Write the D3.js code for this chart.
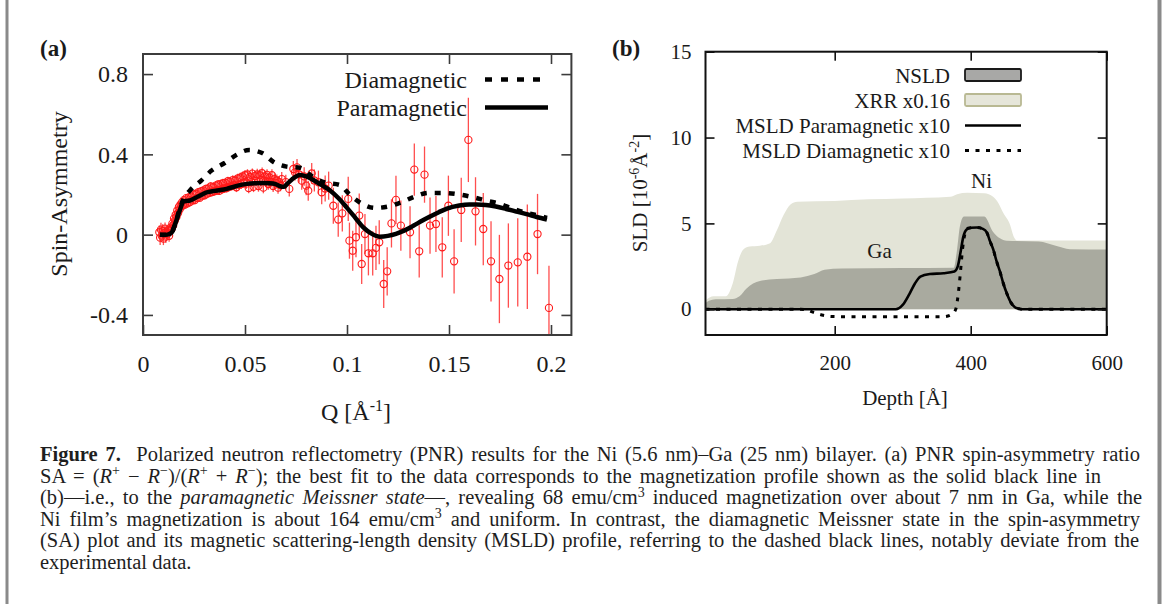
<!DOCTYPE html>
<html>
<head>
<meta charset="utf-8">
<script src="https://cdn.jsdelivr.net/npm/d3@7"></script>
<style>
  body { margin: 0; background: #fff; }
  svg text { font-family: "Liberation Serif", "Times New Roman", serif; }
</style>
</head>
<body>
<svg id="fig" width="1165" height="604"></svg>
<script>
// ---------- Panel (a): spin asymmetry vs Q ----------
const qData = [
  0.0080,0.0084,0.0088,0.0092,0.0096,0.0100,0.0104,0.0108,0.0112,0.0116,
  0.0120,0.0124,0.0128,0.0132,0.0136,0.0140,0.0144,0.0148,0.0152,0.0156,
  0.0160,0.0164,0.0168,0.0172,0.0176,0.0180,0.0184,0.0188,0.0192,0.0196,
  0.0200,0.0206,0.0212,0.0218,0.0224,0.0230,0.0236,0.0242,0.0248,0.0254,
  0.0260,0.0266,0.0272,0.0278,0.0284,0.0290,0.0296,0.0302,0.0308,0.0314,
  0.0320,0.0326,0.0332,0.0338,0.0344,0.0350,0.0356,0.0362,0.0368,0.0374,
  0.0380,0.0386,0.0392,0.0398,0.0404,0.0410,0.0416,0.0422,0.0428,0.0434,
  0.0440,0.0446,0.0452,0.0458,0.0464,0.0470,0.0476,0.0482,0.0488,0.0494,
  0.0500,0.0506,0.0512,0.0518,0.0524,0.0530,0.0536,0.0542,0.0548,0.0554,
  0.0560,0.0566,0.0572,0.0578,0.0584,0.0590,0.0596,0.0602,0.0608,0.0614,
  0.0620,0.0626,0.0632,0.0638,0.0644,0.0650,0.0656,0.0662,0.0668,0.0674,
  0.0680,0.0700,0.0717,0.0737,0.0745,0.0755,0.0765,0.0778,0.0790,0.0800,
  0.0810,0.0827,0.0840,0.0860,0.0876,0.0893,0.0910,0.0933,0.0957,0.0977,
  0.1006,0.1012,0.1028,0.1044,0.1060,0.1072,0.1088,0.1105,0.1126,0.1142,
  0.1158,0.1180,0.1197,0.1218,0.1240,0.1264,0.1309,0.1330,0.1354,0.1380,
  0.1407,0.1436,0.1467,0.1497,0.1525,0.1560,0.1595,0.1630,0.1668,0.1706,
  0.1747,0.1791,0.1837,0.1884,0.1934,0.1990
];
const saData = [
  0.012,-0.015,0.025,-0.005,0.018,-0.020,0.008,0.030,-0.010,0.015,
  0.004,0.022,-0.006,0.020,0.035,0.028,0.055,0.046,0.080,0.070,
  0.098,0.088,0.120,0.108,0.138,0.126,0.150,0.140,0.162,0.146,
  0.172,0.150,0.182,0.156,0.186,0.162,0.190,0.170,0.200,0.172,
  0.204,0.182,0.212,0.184,0.216,0.194,0.220,0.196,0.228,0.204,
  0.230,0.208,0.240,0.212,0.236,0.216,0.244,0.220,0.250,0.218,
  0.252,0.226,0.256,0.230,0.258,0.232,0.266,0.238,0.264,0.242,
  0.272,0.246,0.270,0.236,0.280,0.248,0.284,0.252,0.290,0.258,
  0.296,0.254,0.300,0.232,0.288,0.262,0.304,0.238,0.292,0.268,
  0.300,0.242,0.296,0.272,0.306,0.234,0.290,0.266,0.298,0.252,
  0.284,0.262,0.296,0.242,0.276,0.258,0.270,0.234,0.262,0.246,
  0.277,0.262,0.228,0.327,0.310,0.335,0.300,0.269,0.290,0.244,
  0.219,0.305,0.270,0.261,0.211,0.230,0.244,0.144,0.075,0.106,
  0.178,-0.030,-0.080,-0.013,0.095,-0.146,0.003,-0.093,-0.093,-0.066,
  -0.038,-0.246,-0.183,0.056,0.173,0.045,0.012,0.324,-0.083,0.299,
  0.045,0.053,-0.063,0.144,-0.133,0.123,0.472,0.116,0.028,-0.133,
  -0.221,-0.154,-0.138,-0.110,0.003,-0.365
];
const saErr = [
  0.034,0.036,0.034,0.032,0.034,0.032,0.032,0.030,0.032,0.030,
  0.030,0.029,0.029,0.028,0.028,0.027,0.027,0.026,0.026,0.025,
  0.025,0.024,0.024,0.024,0.023,0.023,0.022,0.022,0.022,0.021,
  0.020,0.020,0.020,0.020,0.020,0.020,0.020,0.020,0.020,0.020,
  0.020,0.020,0.020,0.020,0.020,0.020,0.020,0.020,0.020,0.020,
  0.021,0.021,0.021,0.021,0.021,0.021,0.021,0.021,0.021,0.021,
  0.022,0.022,0.022,0.022,0.022,0.022,0.022,0.022,0.022,0.022,
  0.024,0.024,0.024,0.024,0.024,0.024,0.024,0.024,0.024,0.024,
  0.026,0.026,0.026,0.026,0.026,0.026,0.026,0.026,0.026,0.026,
  0.028,0.028,0.028,0.028,0.028,0.028,0.028,0.028,0.028,0.028,
  0.030,0.030,0.030,0.030,0.030,0.030,0.030,0.030,0.030,0.030,
  0.035,0.036,0.038,0.040,0.040,0.042,0.042,0.045,0.046,0.048,
  0.050,0.052,0.055,0.058,0.060,0.065,0.070,0.090,0.085,0.090,
  0.110,0.090,0.100,0.100,0.110,0.100,0.100,0.110,0.110,0.110,
  0.110,0.120,0.120,0.120,0.120,0.125,0.130,0.130,0.130,0.140,
  0.140,0.140,0.150,0.150,0.160,0.160,0.210,0.170,0.180,0.200,
  0.220,0.210,0.220,0.260,0.200,0.210
];

// fitted curves
const qPara = [0.0083,0.010,0.012,0.014,0.016,0.018,0.0198,0.021,0.023,0.026,0.029,0.031,0.035,0.038,0.041,0.045,0.048,0.051,0.055,0.059,0.062,0.065,0.067,0.069,0.0704,0.073,0.077,0.080,0.0835,0.087,0.0917,0.096,0.0998,0.104,0.108,0.112,0.116,0.120,0.124,0.128,0.1325,0.137,0.1407,0.145,0.149,0.155,0.160,0.1636,0.168,0.173,0.178,0.183,0.188,0.193,0.198];
const saPara = [0.000,-0.002,0.000,0.010,0.060,0.120,0.164,0.168,0.170,0.185,0.200,0.210,0.218,0.222,0.228,0.240,0.248,0.253,0.256,0.257,0.256,0.252,0.242,0.238,0.250,0.275,0.297,0.290,0.272,0.250,0.220,0.180,0.136,0.085,0.036,0.005,-0.010,-0.006,0.004,0.020,0.044,0.070,0.090,0.112,0.130,0.145,0.150,0.150,0.148,0.140,0.128,0.115,0.102,0.088,0.075];
const qDia = [0.0083,0.012,0.014,0.016,0.018,0.020,0.023,0.0288,0.0336,0.040,0.0459,0.052,0.0587,0.064,0.0704,0.077,0.083,0.089,0.0966,0.101,0.107,0.1137,0.120,0.127,0.133,0.140,0.147,0.155,0.162,0.168,0.175,0.1815,0.188,0.196,0.198];
const saDia = [0.000,0.000,0.010,0.060,0.130,0.180,0.220,0.272,0.319,0.357,0.398,0.422,0.405,0.362,0.339,0.333,0.290,0.260,0.247,0.203,0.156,0.133,0.140,0.163,0.189,0.208,0.208,0.200,0.186,0.170,0.153,0.128,0.108,0.090,0.083];

const saTicks = [-0.4, 0, 0.4, 0.8];
const saTickLabels = ["-0.4", "0", "0.4", "0.8"];
const qTicks = [0, 0.05, 0.1, 0.15, 0.2];
const qTickLabels = ["0", "0.05", "0.1", "0.15", "0.2"];
const legendA = ["Diamagnetic", "Paramagnetic"];

// ---------- Panel (b): SLD depth profiles ----------
const depthXRR = [10,16,22,40,50,58,66,75,90,105,115,125,135,145,200,250,300,370,380,395,420,433,441,448,458,463,468,520,600];
const xrrVals  = [0.50,0.68,0.75,0.76,1.5,2.8,3.5,3.65,3.7,3.85,4.6,5.5,6.1,6.26,6.3,6.4,6.45,6.55,6.7,6.78,6.75,6.55,6.16,5.6,4.9,4.25,4.0,4.0,4.0];
const depthNSLD = [10,15,25,50,60,70,80,90,115,150,170,185,210,300,375,380,384,390,420,433,443,453,500,525,546,600];
const nsldVals  = [0.35,0.5,0.58,0.6,0.75,1.2,1.5,1.65,1.76,1.85,2.05,2.3,2.38,2.4,2.42,3.5,4.8,5.4,5.4,4.5,4.13,3.99,3.95,3.7,3.5,3.48];
const depthPara = [10,290,300,310,318,326,340,360,376,381,385,389,394,400,409,418,424,428,433,438,443,448,453,459,465,472,477,600];
const msldPara  = [0,0,0.25,0.9,1.5,1.9,2.05,2.1,2.2,2.5,3.3,4.2,4.65,4.75,4.76,4.68,4.45,4.0,3.5,2.8,2.2,1.5,0.93,0.4,0.12,0.02,0,0];
const depthDia = [10,150,160,170,183,195,210,360,372,378,382,385,388,391,396,409,418,424,428,433,438,443,448,453,459,465,472,477,600];
const msldDia  = [0,0,-0.05,-0.2,-0.35,-0.42,-0.43,-0.43,-0.3,0,1.0,2.2,3.5,4.3,4.72,4.76,4.68,4.45,4.0,3.5,2.8,2.2,1.5,0.93,0.4,0.12,0.02,0,0];

const sldTicks = [0, 5, 10, 15];
const depthTicks = [200, 400, 600];
const legendB = ["NSLD", "XRR x0.16", "MSLD Paramagnetic x10", "MSLD Diamagnetic x10"];

// ---------- Caption ----------
const captionLines = [
  [["Figure 7.", "b"], ["  Polarized neutron reflectometry (PNR) results for the Ni (5.6 nm)\u2013Ga (25 nm) bilayer. (a) PNR spin-asymmetry ratio", ""]],
  [["SA = (", ""], ["R", "i"], ["+", "s"], [" \u2212 ", ""], ["R", "i"], ["\u2212", "s"], [")/(", ""], ["R", "i"], ["+", "s"], [" + ", ""], ["R", "i"], ["\u2212", "s"], ["); the best fit to the data corresponds to the magnetization profile shown as the solid black line in", ""]],
  [["(b)\u2014i.e., to the ", ""], ["paramagnetic Meissner state", "i"], ["\u2014, revealing 68 emu/cm", ""], ["3", "s"], [" induced magnetization over about 7 nm in Ga, while the", ""]],
  [["Ni film\u2019s magnetization is about 164 emu/cm", ""], ["3", "s"], [" and uniform. In contrast, the diamagnetic Meissner state in the spin-asymmetry", ""]],
  [["(SA) plot and its magnetic scattering-length density (MSLD) profile, referring to the dashed black lines, notably deviate from the", ""]],
  [["experimental data.", ""]]
];

// =====================================================================
const svg = d3.select("#fig");
svg.append("rect").attr("width", 1165).attr("height", 604).attr("fill", "#fff");

// side rules of the figure box
svg.append("line").attr("x1", 7).attr("x2", 7).attr("y1", 0).attr("y2", 604)
  .attr("stroke", "#8a8a8a").attr("stroke-width", 3);
svg.append("line").attr("x1", 1159.5).attr("x2", 1159.5).attr("y1", 0).attr("y2", 604)
  .attr("stroke", "#8a8a8a").attr("stroke-width", 4);

const defs = svg.append("defs");

// ---------------- panel (a) ----------------
const A = { l: 143, r: 571.4, t: 54, b: 335 };
const xA = d3.scaleLinear().domain([0, 0.21]).range([A.l, A.r]);
const yA = d3.scaleLinear().domain([-0.5, 0.9]).range([A.b, A.t]);
const frameA = "#3c3c3c";

defs.append("clipPath").attr("id", "clipA").append("rect")
  .attr("x", A.l).attr("y", A.t).attr("width", A.r - A.l).attr("height", A.b - A.t);

const gA = svg.append("g").attr("clip-path", "url(#clipA)");
const pts = qData.map((q, i) => ({ q, s: saData[i], e: saErr[i] }));

gA.selectAll("line.err").data(pts).join("line").attr("class", "err")
  .attr("x1", d => xA(d.q)).attr("x2", d => xA(d.q))
  .attr("y1", d => yA(d.s - d.e)).attr("y2", d => yA(d.s + d.e))
  .attr("stroke", "#ff3030").attr("stroke-width", 1.3).attr("opacity", 0.85);
gA.selectAll("circle.pt").data(pts).join("circle").attr("class", "pt")
  .attr("cx", d => xA(d.q)).attr("cy", d => yA(d.s)).attr("r", 3.6)
  .attr("fill", "none").attr("stroke", "#ff1a1a").attr("stroke-width", 1.1);

const lineA = d3.line().x(d => xA(d[0])).y(d => yA(d[1])).curve(d3.curveMonotoneX);
gA.append("path").datum(qDia.map((q, i) => [q, saDia[i]])).attr("d", lineA)
  .attr("fill", "none").attr("stroke", "#000").attr("stroke-width", 4.5)
  .attr("stroke-dasharray", "6,8");
gA.append("path").datum(qPara.map((q, i) => [q, saPara[i]])).attr("d", lineA)
  .attr("fill", "none").attr("stroke", "#000").attr("stroke-width", 4.5)
  .attr("stroke-linejoin", "round");

function styleAxis(g, size, color) {
  g.attr("font-family", null);
  g.select(".domain").remove();
  g.selectAll("line").attr("stroke", color).attr("stroke-width", 1.6);
  g.selectAll("text").attr("font-size", size).attr("fill", "#1a1a1a");
}

const axLeftA = svg.append("g").attr("transform", `translate(${A.l},0)`)
  .call(d3.axisLeft(yA).tickValues(saTicks).tickSize(-10).tickPadding(15)
    .tickFormat((d, i) => saTickLabels[i]));
styleAxis(axLeftA, 24, frameA);
const axRightA = svg.append("g").attr("transform", `translate(${A.r},0)`)
  .call(d3.axisRight(yA).tickValues(saTicks).tickSize(-10).tickFormat(""));
styleAxis(axRightA, 24, frameA);
const axBotA = svg.append("g").attr("transform", `translate(0,${A.b})`)
  .call(d3.axisBottom(xA).tickValues(qTicks).tickSize(-10).tickPadding(20)
    .tickFormat((d, i) => qTickLabels[i]));
styleAxis(axBotA, 24, frameA);
const axTopA = svg.append("g").attr("transform", `translate(0,${A.t})`)
  .call(d3.axisTop(xA).tickValues(qTicks.slice(1)).tickSize(-10).tickFormat(""));
styleAxis(axTopA, 24, frameA);

svg.append("rect").attr("x", A.l).attr("y", A.t).attr("width", A.r - A.l).attr("height", A.b - A.t)
  .attr("fill", "none").attr("stroke", frameA).attr("stroke-width", 2);

// axis titles (a)
svg.append("text").attr("transform", "translate(67,194) rotate(-90)")
  .attr("text-anchor", "middle").attr("font-size", 24).attr("fill", "#1a1a1a")
  .text("Spin-Asymmetry");
const qLab = svg.append("text").attr("x", 356).attr("y", 420)
  .attr("text-anchor", "middle").attr("font-size", 24).attr("fill", "#1a1a1a");
qLab.append("tspan").text("Q [\u00C5");
qLab.append("tspan").attr("font-size", 16).attr("dy", -9).text("-1");
qLab.append("tspan").attr("dy", 9).text("]");

svg.append("text").attr("x", 40).attr("y", 56).attr("font-size", 23)
  .attr("font-weight", "bold").attr("fill", "#1a1a1a").text("(a)");

// legend (a)
const legAy = [88, 116];
legendA.forEach((name, i) => {
  svg.append("text").attr("x", 467).attr("y", legAy[i]).attr("text-anchor", "end")
    .attr("font-size", 24).attr("fill", "#1a1a1a").text(name);
  svg.append("line").attr("x1", 485).attr("x2", 548)
    .attr("y1", legAy[i] - 8.5).attr("y2", legAy[i] - 8.5)
    .attr("stroke", "#000").attr("stroke-width", 4.5)
    .attr("stroke-dasharray", i === 0 ? "7,9" : null);
});

// ---------------- panel (b) ----------------
const B = { l: 705.5, r: 1106.7, t: 51.7, b: 335 };
const xB = d3.scaleLinear().domain([10, 600]).range([B.l, B.r]);
const yB = d3.scaleLinear().domain([-1.5, 15]).range([B.b, B.t]);

defs.append("clipPath").attr("id", "clipB").append("rect")
  .attr("x", B.l).attr("y", B.t).attr("width", B.r - B.l).attr("height", B.b - B.t);
const gB = svg.append("g").attr("clip-path", "url(#clipB)");

const areaB = d3.area().x(d => xB(d[0])).y0(yB(0)).y1(d => yB(d[1])).curve(d3.curveMonotoneX);
gB.append("path").datum(depthXRR.map((d, i) => [d, xrrVals[i]])).attr("d", areaB)
  .attr("fill", "#e3e4d7");
gB.append("path").datum(depthNSLD.map((d, i) => [d, nsldVals[i]])).attr("d", areaB)
  .attr("fill", "#a9aa9f");

const lineB = d3.line().x(d => xB(d[0])).y(d => yB(d[1])).curve(d3.curveMonotoneX);
gB.append("path").datum(depthPara.map((d, i) => [d, msldPara[i]])).attr("d", lineB)
  .attr("fill", "none").attr("stroke", "#000").attr("stroke-width", 2.6);
gB.append("path").datum(depthDia.map((d, i) => [d, msldDia[i]])).attr("d", lineB)
  .attr("fill", "none").attr("stroke", "#000").attr("stroke-width", 3)
  .attr("stroke-dasharray", "4,6.5");

const frameB = "#111";
const axLeftB = svg.append("g").attr("transform", `translate(${B.l},0)`)
  .call(d3.axisLeft(yB).tickValues(sldTicks).tickSize(-9).tickPadding(14));
styleAxis(axLeftB, 21, frameB);
const axRightB = svg.append("g").attr("transform", `translate(${B.r},0)`)
  .call(d3.axisRight(yB).tickValues(sldTicks).tickSize(-9).tickFormat(""));
styleAxis(axRightB, 21, frameB);
const axBotB = svg.append("g").attr("transform", `translate(0,${B.b})`)
  .call(d3.axisBottom(xB).tickValues(depthTicks).tickSize(-9).tickPadding(20));
styleAxis(axBotB, 21, frameB);
const axTopB = svg.append("g").attr("transform", `translate(0,${B.t})`)
  .call(d3.axisTop(xB).tickValues(depthTicks).tickSize(-9).tickFormat(""));
styleAxis(axTopB, 21, frameB);

svg.append("rect").attr("x", B.l).attr("y", B.t).attr("width", B.r - B.l).attr("height", B.b - B.t)
  .attr("fill", "none").attr("stroke", frameB).attr("stroke-width", 2);

// region labels
svg.append("text").attr("x", xB(416)).attr("y", 188).attr("text-anchor", "middle")
  .attr("font-size", 21).attr("fill", "#1a1a1a").text("Ni");
svg.append("text").attr("x", xB(266)).attr("y", 258).attr("text-anchor", "middle")
  .attr("font-size", 21).attr("fill", "#1a1a1a").text("Ga");

// axis titles (b)
const sldLab = svg.append("text").attr("transform", "translate(647,193) rotate(-90)")
  .attr("text-anchor", "middle").attr("font-size", 21).attr("fill", "#1a1a1a");
sldLab.append("tspan").text("SLD [10");
sldLab.append("tspan").attr("font-size", 14).attr("dy", -8).text("-6");
sldLab.append("tspan").attr("dy", 8).text("\u00C5");
sldLab.append("tspan").attr("font-size", 14).attr("dy", -8).text("-2");
sldLab.append("tspan").attr("dy", 8).text("]");

svg.append("text").attr("x", 905).attr("y", 405).attr("text-anchor", "middle")
  .attr("font-size", 21).attr("fill", "#1a1a1a").text("Depth [\u00C5]");

svg.append("text").attr("x", 612).attr("y", 56).attr("font-size", 23)
  .attr("font-weight", "bold").attr("fill", "#1a1a1a").text("(b)");

// legend (b)
const legBy = [83, 108, 133, 158];
legendB.forEach((name, i) => {
  svg.append("text").attr("x", 950).attr("y", legBy[i]).attr("text-anchor", "end")
    .attr("font-size", 21).attr("fill", "#1a1a1a").text(name);
});
svg.append("rect").attr("x", 965).attr("y", 69).attr("width", 56).attr("height", 12).attr("rx", 1.5)
  .attr("fill", "#a8a8a6").attr("stroke", "#1a1a1a").attr("stroke-width", 1.8);
svg.append("rect").attr("x", 965).attr("y", 94).attr("width", 56).attr("height", 12).attr("rx", 1.5)
  .attr("fill", "#e6e6da").attr("stroke", "#b9b993").attr("stroke-width", 1.8);
svg.append("line").attr("x1", 965).attr("x2", 1021).attr("y1", 125.5).attr("y2", 125.5)
  .attr("stroke", "#000").attr("stroke-width", 2.6);
svg.append("line").attr("x1", 965).attr("x2", 1021).attr("y1", 150.5).attr("y2", 150.5)
  .attr("stroke", "#000").attr("stroke-width", 3).attr("stroke-dasharray", "4,6.5");

// ---------------- caption ----------------
// every line starts at x = 40; words are split into tspans so the gaps of full
// lines can be widened (dx) until the measured end reaches the line's right edge
const captionEnds = [1140, 1101, 1142, 1140, 1139, null];
captionLines.forEach((segs, i) => {
  const t = svg.append("text").attr("x", 40).attr("y", 461 + i * 21.6)
    .attr("font-size", 20.5).attr("fill", "#1e1e1e").style("white-space", "pre");
  let raised = false, afterSpace = false;
  segs.forEach(([s, st]) => {
    const parts = s.split(/(?<= )/);
    parts.forEach((p, k) => {
      const ts = t.append("tspan").text(p);
      if (st === "b") ts.attr("font-weight", "bold");
      if (st === "i") ts.attr("font-style", "italic");
      if (st === "s") ts.attr("font-size", 14);
      if (k === 0) {
        if (st === "s") { ts.attr("dy", -7.5); raised = true; }
        else if (raised) { ts.attr("dy", 7.5); raised = false; }
      }
      if (afterSpace) ts.classed("gap", true);
      afterSpace = p.endsWith(" ");
    });
  });
  if (captionEnds[i]) {
    const node = t.node();
    const gapSpans = t.selectAll("tspan.gap");
    const n = gapSpans.size();
    let extra = 0;
    for (let k = 0; k < 4; k++) {
      const end = node.getEndPositionOfChar(node.getNumberOfChars() - 1).x;
      extra += (captionEnds[i] - end) / n;
      gapSpans.attr("dx", extra);
    }
  }
});
</script>
</body>
</html>
